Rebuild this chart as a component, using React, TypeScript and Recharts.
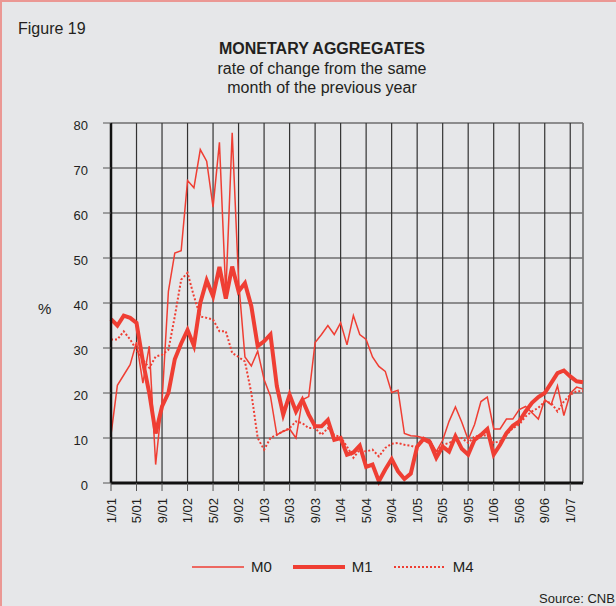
import { LineChart, Line, XAxis, YAxis, CartesianGrid, ReferenceLine } from "recharts";

// monthly categories 1/01 .. 3/07
const years = ["01", "02", "03", "04", "05", "06", "07"];
const months = [1, 2, 3, 4, 5, 6, 7, 8, 9, 10, 11, 12];
const categories: string[] = [];
years.forEach((yy) => months.forEach((m) => categories.push(`${m}/${yy}`)));
categories.splice(75);

const xTicks = [
  "1/01", "5/01", "9/01", "1/02", "5/02", "9/02", "1/03", "5/03", "9/03", "1/04",
  "5/04", "9/04", "1/05", "5/05", "9/05", "1/06", "5/06", "9/06", "1/07",
];
const yTicks = [0, 10, 20, 30, 40, 50, 60, 70, 80];

const m0 = [
  10.7, 21.7, 24, 26.3, 31.3, 22.2, 30.4, 4.1, 18, 42.6, 51.1, 51.6,
  67.2, 65.6, 74.1, 71.5, 61.3, 75.7, 42, 77.8, 45, 28, 26, 29.3,
  23, 19.3, 10.7, 11.5, 12, 10, 18.5, 19.2, 31.2, 33, 35, 33,
  35.6, 30.7, 37.2, 33, 31.9, 28, 25.9, 24.8, 20.1, 20.6, 11, 10.5,
  10.4, 10, 9.6, 7, 9.5, 13.7, 16.9, 13.5, 9.6, 13, 18.1, 19.1,
  12, 12, 14.2, 14.2, 16.3, 17, 15.6, 14.2, 18.5, 17.4, 21.6, 15,
  19.9, 21.3, 20.9,
];
const m1 = [
  36.4, 35, 37.2, 36.7, 35.6, 27, 20, 11, 17, 20, 27.5, 31,
  34, 30.5, 40, 45, 41.5, 48, 41, 48.1, 42.6, 44.4, 39.3, 30.4,
  31.5, 33, 21.5, 15.2, 19.6, 15.9, 18.5, 15.2, 12.6, 12.6, 14, 9.6,
  10, 6.3, 6.8, 8.3, 3.6, 4.1, 0.4, 3, 5.3, 2.6, 0.9, 2.1,
  8.1, 9.8, 9, 5.6, 8.1, 7, 10.4, 7.6, 6.3, 9.6, 10.7, 12,
  6.3, 8.5, 11.1, 12.7, 13.7, 15.9, 17.8, 19.1, 20, 22.2, 24.4, 25,
  23.7, 22.6, 22.4,
];
const m4 = [
  31.9, 31.9, 33.7, 31.9, 29.6, 27.4, 25.6, 28.1, 28.5, 29.6, 37, 45.2,
  46.7, 41.5, 37, 36.7, 36.3, 33.7, 33.7, 28.9, 28, 27, 20, 10,
  7.4, 10, 10.7, 11.5, 12.2, 13.7, 13.3, 12.2, 12.2, 10.7, 12.2, 10.7,
  10.2, 8.1, 5.6, 7.4, 7, 7.4, 5.9, 7.8, 8.7, 8.9, 8.5, 8.3,
  7.8, 9.6, 8.9, 6.8, 8.5, 8.9, 9.6, 10, 8.9, 10.4, 10.4, 10.7,
  8.9, 9.3, 10.7, 12.2, 13, 14.8, 15.9, 16.7, 18.1, 17.8, 15.9, 18.1,
  19.6, 20.4, 20.4,
];

const data = categories.map((month, i) => ({ month, M0: m0[i], M1: m1[i], M4: m4[i] }));

const RED = "#ef3e33";
const TEXT = "#231f20";
const FONT = '"Liberation Sans", Arial, sans-serif';

function MonthTick({ x, y, payload }: any) {
  return (
    <text
      x={x}
      y={y}
      transform={`rotate(-90 ${x} ${y})`}
      textAnchor="end"
      dy={4.5}
      fontSize={13}
      fill={TEXT}
      fontFamily={FONT}
    >
      {payload.value}
    </text>
  );
}

function LegendItem({ label, width, dash }: { label: string; width: number; dash?: string }) {
  return (
    <div style={{ display: "flex", alignItems: "center" }}>
      <svg width={52} height={8}>
        <line x1={0} y1={4} x2={52} y2={4} stroke={RED} strokeWidth={width} strokeDasharray={dash} />
      </svg>
      <span style={{ marginLeft: 7, fontSize: 15 }}>{label}</span>
    </div>
  );
}

export default function App() {
  return (
    <div
      style={{
        position: "absolute",
        left: 0,
        top: 0,
        width: 614,
        height: 604,
        background: "#e6e7e9",
        borderTop: "2px solid #eb9894",
        borderLeft: "2px solid #eb9894",
        fontFamily: FONT,
        color: TEXT,
        overflow: "hidden",
      }}
    >
      <div style={{ position: "absolute", left: 16, top: 18, fontSize: 16 }}>Figure 19</div>
      <div
        style={{
          position: "absolute",
          left: 0,
          width: 640,
          top: 37,
          textAlign: "center",
          fontSize: 16,
          lineHeight: "19.5px",
        }}
      >
        <div style={{ fontWeight: "bold" }}>MONETARY AGGREGATES</div>
        <div>rate of change from the same</div>
        <div>month of the previous year</div>
      </div>
      <div style={{ position: "absolute", left: 36, top: 298, fontSize: 15 }}>%</div>

      <div style={{ position: "absolute", left: -2, top: -2 }}>
        <LineChart width={616} height={606} data={data} margin={{ top: 123, right: 33, left: 0, bottom: 83 }}>
          <CartesianGrid stroke="#333" strokeWidth={1.2} />
          <XAxis
            dataKey="month"
            ticks={xTicks}
            interval={0}
            height={40}
            tick={<MonthTick />}
            tickSize={8}
            tickMargin={7}
            tickLine={{ stroke: "#555" }}
            axisLine={{ stroke: "#111", strokeWidth: 3 }}
          />
          <YAxis
            domain={[0, 80]}
            ticks={yTicks}
            width={111}
            tickSize={8}
            tickMargin={15}
            tick={{ fontSize: 13, fill: TEXT, fontFamily: FONT, dy: 2 }}
            tickLine={{ stroke: "#555" }}
            axisLine={{ stroke: "#111", strokeWidth: 2.5 }}
          />
          <ReferenceLine x="3/07" stroke="#888" strokeWidth={1.5} />
          <Line type="linear" dataKey="M4" stroke={RED} strokeWidth={2} strokeDasharray="2 2" dot={false} isAnimationActive={false} />
          <Line type="linear" dataKey="M0" stroke={RED} strokeWidth={1.5} dot={false} isAnimationActive={false} />
          <Line type="linear" dataKey="M1" stroke={RED} strokeWidth={4} dot={false} isAnimationActive={false} />
        </LineChart>
      </div>

      <div style={{ position: "absolute", left: 190, top: 556, display: "flex", gap: 21 }}>
        <LegendItem label="M0" width={1.5} />
        <LegendItem label="M1" width={4} />
        <LegendItem label="M4" width={2} dash="2 2" />
      </div>
      <div style={{ position: "absolute", left: 537, top: 589, fontSize: 13 }}>Source: CNB</div>
    </div>
  );
}
